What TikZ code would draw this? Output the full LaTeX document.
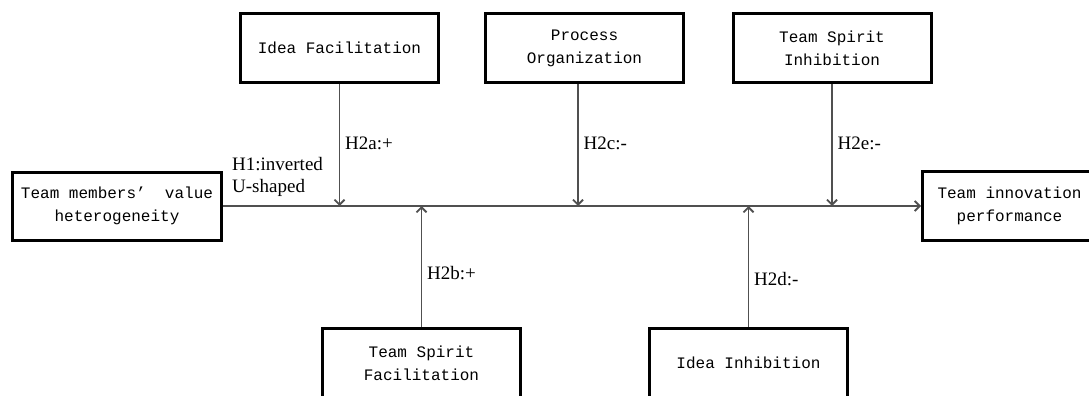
\documentclass[tikz,border=0pt]{standalone}
\usepackage{fontspec}
\usetikzlibrary{arrows.meta,positioning}
\newfontfamily\boxfont{Liberation Mono}
\newfontfamily\hypfont{Liberation Serif}
\definecolor{linegray}{HTML}{505050}

\begin{document}
\begin{tikzpicture}[x=1pt,y=-1pt,
    var/.style={draw,line width=3pt,minimum width=198pt,minimum height=69pt,
      align=center,inner sep=2pt,font=\boxfont\fontsize{16}{23}\selectfont},
    lbl/.style={font=\hypfont\fontsize{19}{22}\selectfont},
    hyp/.style={lbl,right,xshift=1.5pt},
    link/.style={draw=linegray,line width=1.8pt,-{Straight Barb[length=5pt,width=10pt]}}]

  \useasboundingbox (0,0) rectangle (1089,396);

  % main path
  \node[var,minimum width=209pt,minimum height=68pt] (tmv) at (117,206) {Team members’~~value\\heterogeneity};
  \node[var,minimum width=174pt] (tip) [right=698pt of tmv] {Team innovation\\performance};

  % moderators
  \node[var] (ifac) at (339.5,48) {Idea Facilitation};
  \node[var] (porg) at (584.5,48) {Process\\Organization};
  \node[var] (tsi)  at (832,48)   {Team Spirit\\Inhibition};
  \node[var] (tsf)  at (421.5,363) {Team Spirit\\Facilitation};
  \node[var] (iinh) at (748.5,363) {Idea Inhibition};

  \coordinate (ja) at (ifac |- tmv);
  \coordinate (jb) at (tsf |- tmv);
  \coordinate (jc) at (578,206);
  \coordinate (jc0) at (porg.south -| jc);
  \coordinate (jd) at (iinh |- tmv);
  \coordinate (je) at (tsi |- tmv);

  \node[lbl,align=left,anchor=north west,inner sep=0pt] (h1) at (232,157) {H1:inverted\\U-shaped};

  \path (tmv) edge[link] (tip)
        (ifac) edge[link] node[hyp,pos=0.49] {H2a:+} (ja)
        (tsf) edge[link] node[hyp,pos=0.45] {H2b:+} (jb)
        (jc0) edge[link] node[hyp,pos=0.49] {H2c:-} (jc)
        (iinh) edge[link] node[hyp,pos=0.40] {H2d:-} (jd)
        (tsi) edge[link] node[hyp,pos=0.49] {H2e:-} (je);
\end{tikzpicture}
\end{document}
